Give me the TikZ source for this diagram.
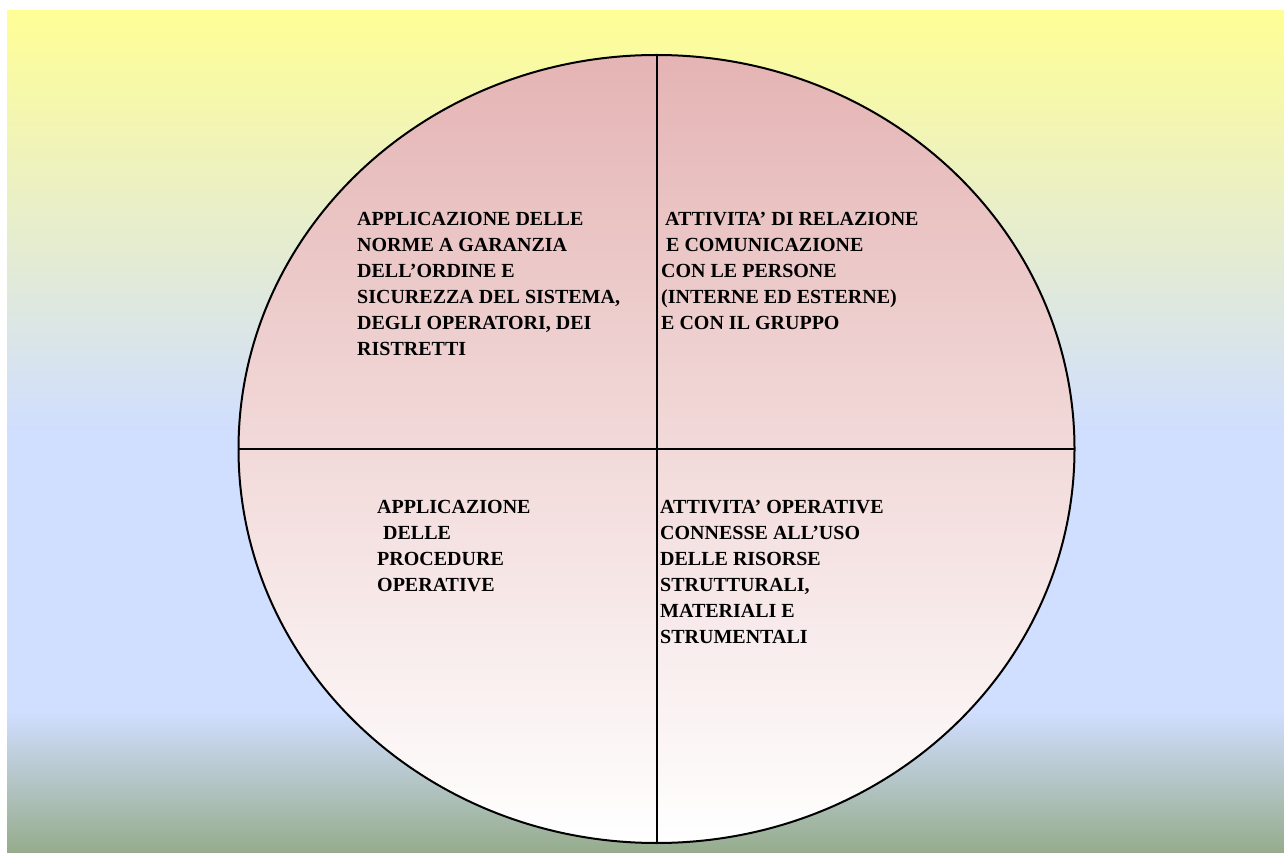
\documentclass[tikz,border=0pt]{standalone}
\usepackage{fontspec}
\setmainfont{Liberation Serif}
\definecolor{bgyellow}{RGB}{255,254,150}
\definecolor{bgblue}{RGB}{208,222,255}
\definecolor{bggreen}{RGB}{150,172,140}
\definecolor{pinktop}{RGB}{229,180,180}
\tikzset{quadtext/.style={anchor=north west,align=left,inner sep=0pt,
    font=\bfseries\fontsize{20}{26}\selectfont}}
\begin{document}
\begin{tikzpicture}[x=1pt,y=1pt]
    \useasboundingbox (0,0) rectangle (1284,852);
    % background
    \shade[top color=bgyellow,bottom color=bgblue] (7,421) rectangle (1284,841);
    \fill[bgblue] (7,139) rectangle (1284,422);
    \shade[top color=bgblue,bottom color=bggreen] (7,0) rectangle (1284,140);
    % circle and quarters
    \shadedraw[top color=pinktop,bottom color=white,line width=2pt]
          (656.5,403) coordinate(O) ellipse[x radius=418,y radius=394];
    \draw[line width=2pt] (O) +(0,394) coordinate(N) -- +(0,-394) coordinate(S)
          (O) +(-418,0) coordinate(W) -- +(418,0) coordinate(E);
    \node[quadtext] (norme) at (357,640) {APPLICAZIONE DELLE\\NORME A GARANZIA\\DELL’ORDINE E\\SICUREZZA DEL SISTEMA,\\DEGLI OPERATORI, DEI\\RISTRETTI};
    \node[quadtext] (relazione) at (661,640) {\hspace*{4pt}ATTIVITA’ DI RELAZIONE\\\hspace*{5pt}E COMUNICAZIONE\\CON LE PERSONE\\(INTERNE ED ESTERNE)\\E CON IL GRUPPO};
    \node[quadtext] (procedure) at (377,352) {APPLICAZIONE\\\hspace*{6pt}DELLE\\PROCEDURE\\OPERATIVE};
    \node[quadtext] (risorse) at (660,352) {ATTIVITA’ OPERATIVE\\CONNESSE ALL’USO\\DELLE RISORSE\\STRUTTURALI,\\MATERIALI E\\STRUMENTALI};
\end{tikzpicture}
\end{document}
